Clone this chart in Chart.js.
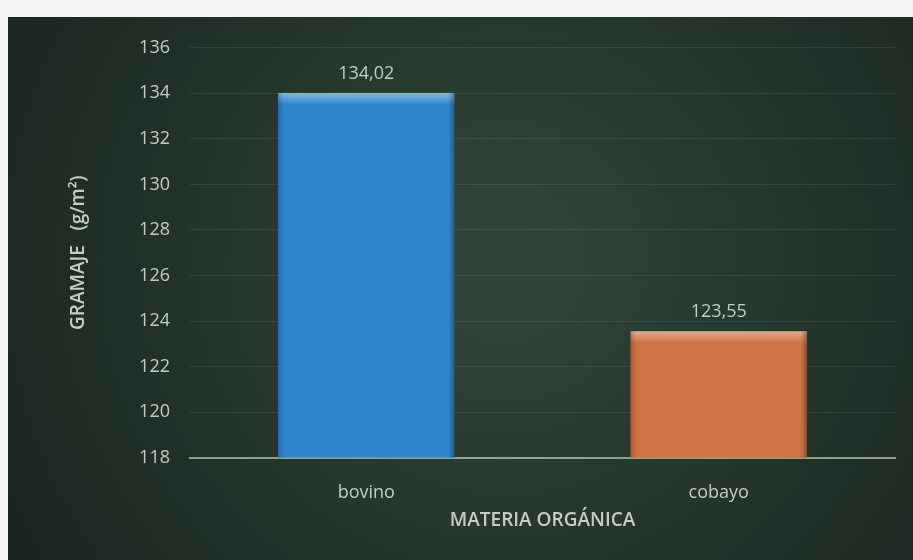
<!DOCTYPE html>
<html>
<head>
<meta charset="utf-8">
<script src="https://cdn.jsdelivr.net/npm/chart.js@4"></script>
<style>
  html, body { margin: 0; padding: 0; background: #f4f5f2; }
  #wrap { position: absolute; left: 8px; top: 17px; width: 905px; height: 543px; }
</style>
</head>
<body>
<div id="wrap"><canvas id="chart"></canvas></div>
<script>
// materia orgánica vs gramaje
const categorias = ["bovino", "cobayo"];
const gramaje = [134.02, 123.55];
const coloresBarra = ["#3086cc", "#cf7244"];
const yMin = 118;
const yMax = 136;

const textColor = "#c5ccc5";
const fontFamily = "'Open Sans', 'Noto Sans', sans-serif";

// fondo verde oscuro, más claro al centro
const fondo = {
  id: "fondo",
  beforeDraw(chart) {
    const { ctx, width, height } = chart;
    ctx.save();
    const g = ctx.createRadialGradient(width * 0.55, height * 0.45, 40, width * 0.55, height * 0.45, width * 0.62);
    g.addColorStop(0, "#2f4438");
    g.addColorStop(1, "#1a261f");
    ctx.fillStyle = g;
    ctx.fillRect(0, 0, width, height);
    ctx.restore();
  }
};

// bisel claro arriba y bordes oscuros en cada barra
const bisel = {
  id: "bisel",
  afterDatasetsDraw(chart) {
    const { ctx, chartArea } = chart;
    const meta = chart.getDatasetMeta(0);
    ctx.save();
    meta.data.forEach((bar) => {
      const left = bar.x - bar.width / 2;
      const top = bar.y;
      const h = Math.min(bar.base, chartArea.bottom) - bar.y;
      const g = ctx.createLinearGradient(0, top, 0, top + 12);
      g.addColorStop(0, "rgba(255,255,255,0.4)");
      g.addColorStop(1, "rgba(255,255,255,0)");
      ctx.fillStyle = g;
      ctx.fillRect(left, top, bar.width, 12);
      const gl = ctx.createLinearGradient(left, 0, left + 6, 0);
      gl.addColorStop(0, "rgba(0,0,0,0.2)");
      gl.addColorStop(1, "rgba(0,0,0,0)");
      ctx.fillStyle = gl;
      ctx.fillRect(left, top, 6, h);
      const gr = ctx.createLinearGradient(left + bar.width - 6, 0, left + bar.width, 0);
      gr.addColorStop(0, "rgba(0,0,0,0)");
      gr.addColorStop(1, "rgba(0,0,0,0.3)");
      ctx.fillStyle = gr;
      ctx.fillRect(left + bar.width - 6, top, 6, h);
    });
    ctx.restore();
  }
};

// etiquetas con el valor encima de cada barra (coma decimal)
const etiquetas = {
  id: "etiquetas",
  afterDatasetsDraw(chart) {
    const { ctx } = chart;
    const meta = chart.getDatasetMeta(0);
    ctx.save();
    ctx.font = "18px " + fontFamily;
    ctx.fillStyle = textColor;
    ctx.textAlign = "center";
    ctx.textBaseline = "bottom";
    meta.data.forEach((bar, i) => {
      const txt = gramaje[i].toFixed(2).replace(".", ",");
      ctx.fillText(txt, bar.x, bar.y - 10);
    });
    ctx.restore();
  }
};

new Chart(document.getElementById("chart"), {
  type: "bar",
  data: {
    labels: categorias,
    datasets: [{
      data: gramaje,
      backgroundColor: coloresBarra,
      borderWidth: 0,
      categoryPercentage: 1,
      barPercentage: 0.5
    }]
  },
  options: {
    responsive: true,
    maintainAspectRatio: false,
    animation: false,
    layout: { autoPadding: false, padding: { top: 25, right: 18, bottom: 28, left: 0 } },
    plugins: {
      legend: { display: false },
      tooltip: { enabled: false }
    },
    scales: {
      x: {
        grid: { display: false, drawTicks: false },
        border: { color: "rgba(180,195,170,0.75)", width: 2 },
        ticks: { color: textColor, font: { size: 18, family: fontFamily }, padding: 24 },
        title: {
          display: true,
          text: "MATERIA ORGÁNICA",
          color: textColor,
          font: { size: 19, weight: "600", family: fontFamily },
          padding: { top: -18, bottom: 0 }
        }
      },
      y: {
        min: yMin,
        max: yMax,
        afterFit(scale) { scale.width = 182; },
        grid: { color: "rgba(215,230,210,0.1)", drawTicks: false },
        border: { display: false },
        ticks: { stepSize: 2, color: textColor, font: { size: 18, family: fontFamily }, padding: 20 },
        title: {
          display: true,
          text: "GRAMAJE   (g/m²)",
          color: textColor,
          font: { size: 19, weight: "600", family: fontFamily },
          padding: { top: 59 }
        }
      }
    }
  },
  plugins: [fondo, bisel, etiquetas]
});
</script>
</body>
</html>
